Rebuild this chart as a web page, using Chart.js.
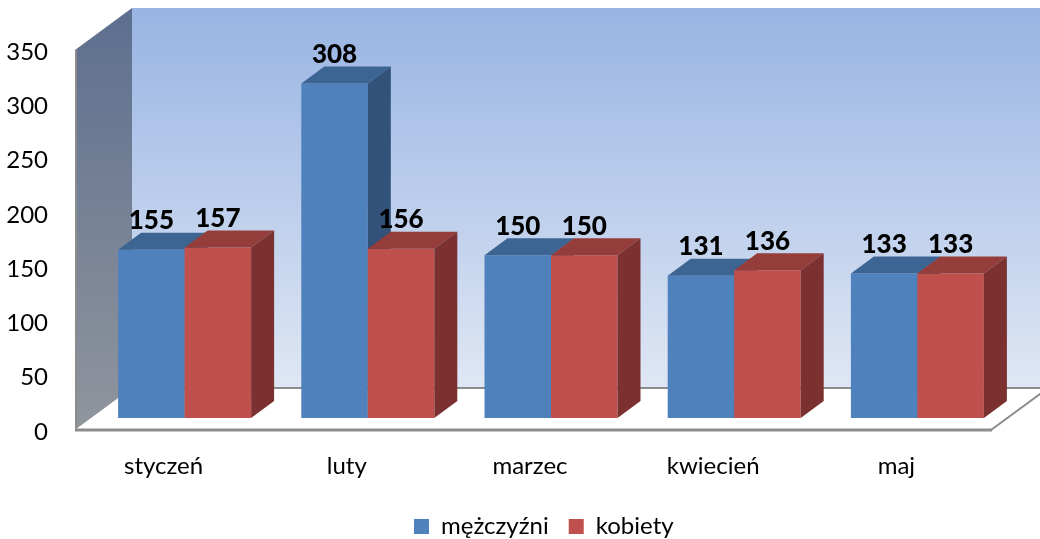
<!DOCTYPE html>
<html>
<head>
<meta charset="utf-8">
<script src="https://cdn.jsdelivr.net/npm/chart.js@4"></script>
<style>
html,body{margin:0;padding:0;background:#fff;}
</style>
</head>
<body>
<canvas id="chart" width="1040" height="539"></canvas>
<script>
const months = ['styczeń','luty','marzec','kwiecień','maj'];
const men = [155,308,150,131,133];
const women = [157,156,150,136,133];
const yTicks = [0,50,100,150,200,250,300,350];

// depth of the boxes and of the walls, in px
const BAR_DX = 23, BAR_DY = -17;
const FRONT = {x:-18, y:12};
const BACK = {x:39, y:-30};

const shades = [
    {top:'#3d6594', side:'#33527a'},
    {top:'#953d3b', side:'#7b3130'}
];

function poly(ctx, pts, fill){
    ctx.beginPath();
    ctx.moveTo(pts[0][0], pts[0][1]);
    for (let i = 1; i < pts.length; i++) ctx.lineTo(pts[i][0], pts[i][1]);
    ctx.closePath();
    ctx.fillStyle = fill;
    ctx.fill();
}

const box3d = {
    id: 'box3d',
    afterLayout(chart){
        // legend sits a bit right of centre and low, like the original
        const lg = chart.legend;
        const pad = lg.options.labels.padding;
        const w = lg.right - lg.left, h = lg.bottom - lg.top;
        const lw = lg.lineWidths[0];
        lg.left = 414 - (pad + w - lw) / 2;
        lg.right = lg.left + w;
        lg.top = 526.5 - pad - 12;
        lg.bottom = lg.top + h;
    },
    beforeDraw(chart){
        const ctx = chart.ctx;
        const a = chart.chartArea;
        const y = chart.scales.y;
        const top = y.getPixelForValue(350), bot = y.getPixelForValue(0);
        ctx.save();
        // back wall
        let g = ctx.createLinearGradient(0, top + BACK.y, 0, bot + BACK.y);
        g.addColorStop(0, '#98b4e3');
        g.addColorStop(1, '#dfe7f4');
        ctx.fillStyle = g;
        ctx.fillRect(a.left + BACK.x, top + BACK.y, chart.width - a.left - BACK.x, bot - top);
        // side wall
        g = ctx.createLinearGradient(0, top + BACK.y, 0, bot + FRONT.y);
        g.addColorStop(0, '#5d6f8f');
        g.addColorStop(1, '#90959d');
        poly(ctx, [[a.left + FRONT.x, top + FRONT.y], [a.left + BACK.x, top + BACK.y],
            [a.left + BACK.x, bot + BACK.y], [a.left + FRONT.x, bot + FRONT.y]], g);
        ctx.strokeStyle = '#8c8c8c';
        ctx.lineWidth = 2;
        ctx.beginPath();
        ctx.moveTo(a.left + FRONT.x + 1, top + FRONT.y);
        ctx.lineTo(a.left + FRONT.x + 1, bot + FRONT.y);
        ctx.stroke();
        // floor
        poly(ctx, [[a.left + FRONT.x, bot + FRONT.y], [a.left + BACK.x, bot + BACK.y],
            [a.right + BACK.x, bot + BACK.y], [a.right + FRONT.x, bot + FRONT.y]], '#ffffff');
        ctx.beginPath();
        ctx.moveTo(a.left + BACK.x, bot + BACK.y);
        ctx.lineTo(chart.width, bot + BACK.y);
        ctx.stroke();
        ctx.beginPath();
        ctx.moveTo(a.right + FRONT.x, bot + FRONT.y);
        ctx.lineTo(a.right + BACK.x, bot + BACK.y);
        ctx.stroke();
        ctx.lineWidth = 3;
        ctx.beginPath();
        ctx.moveTo(a.left + FRONT.x, bot + FRONT.y);
        ctx.lineTo(a.right + FRONT.x + 1, bot + FRONT.y);
        ctx.stroke();
        ctx.restore();
    },
    beforeDatasetsDraw(chart){
        const ctx = chart.ctx;
        const metas = chart.data.datasets.map((d, i) => chart.getDatasetMeta(i));
        ctx.save();
        for (let i = 0; i < months.length; i++){
            metas.forEach((meta, di) => {
                const bar = meta.data[i];
                bar.draw(ctx);
                const p = bar.getProps(['x','y','base','width'], true);
                const l = p.x - p.width / 2, r = p.x + p.width / 2;
                poly(ctx, [[l, p.y], [r, p.y], [r + BAR_DX, p.y + BAR_DY], [l + BAR_DX, p.y + BAR_DY]], shades[di].top);
                poly(ctx, [[r, p.y], [r + BAR_DX, p.y + BAR_DY], [r + BAR_DX, p.base + BAR_DY], [r, p.base]], shades[di].side);
            });
        }
        ctx.restore();
        return false;
    },
    afterDraw(chart){
        const ctx = chart.ctx;
        ctx.save();
        ctx.font = '900 26px Lato';
        ctx.fillStyle = '#000';
        ctx.textAlign = 'center';
        ctx.textBaseline = 'middle';
        chart.data.datasets.forEach((d, di) => {
            chart.getDatasetMeta(di).data.forEach((bar, i) => {
                ctx.fillText(String(d.data[i]), bar.x, bar.y - 29);
            });
        });
        ctx.restore();
    }
};

new Chart(document.getElementById('chart'), {
    type: 'bar',
    data: {
        labels: months,
        datasets: [
            {label: 'mężczyźni', data: men, backgroundColor: '#4f81bd', borderWidth: 0},
            {label: 'kobiety', data: women, backgroundColor: '#c0504d', borderWidth: 0}
        ]
    },
    options: {
        responsive: false,
        animation: false,
        devicePixelRatio: 1,
        layout: {padding: {top: 38, right: 31, left: 0, bottom: 0}},
        datasets: {bar: {barPercentage: 1, categoryPercentage: 0.726}},
        plugins: {
            legend: {
                position: 'bottom',
                labels: {boxWidth: 15, boxHeight: 15, padding: 20, color: '#000', font: {family: 'Lato', size: 24}}
            },
            tooltip: {enabled: false}
        },
        scales: {
            x: {
                grid: {display: false, drawTicks: false},
                border: {display: false},
                ticks: {color: '#000', font: {family: 'Lato', size: 24}, labelOffset: -21, padding: 34},
                afterFit: s => { s.height = 67; }
            },
            y: {
                min: 0,
                max: 350,
                grid: {display: false, drawTicks: false},
                border: {display: false},
                afterBuildTicks: s => { s.ticks = yTicks.map(v => ({value: v})); },
                ticks: {color: '#000', font: {family: 'Lato', size: 24}, padding: 45, labelOffset: 14},
                afterFit: s => { s.width = 93; s.paddingTop = 0; s.paddingBottom = 0; }
            }
        }
    },
    plugins: [box3d]
});
</script>
</body>
</html>
